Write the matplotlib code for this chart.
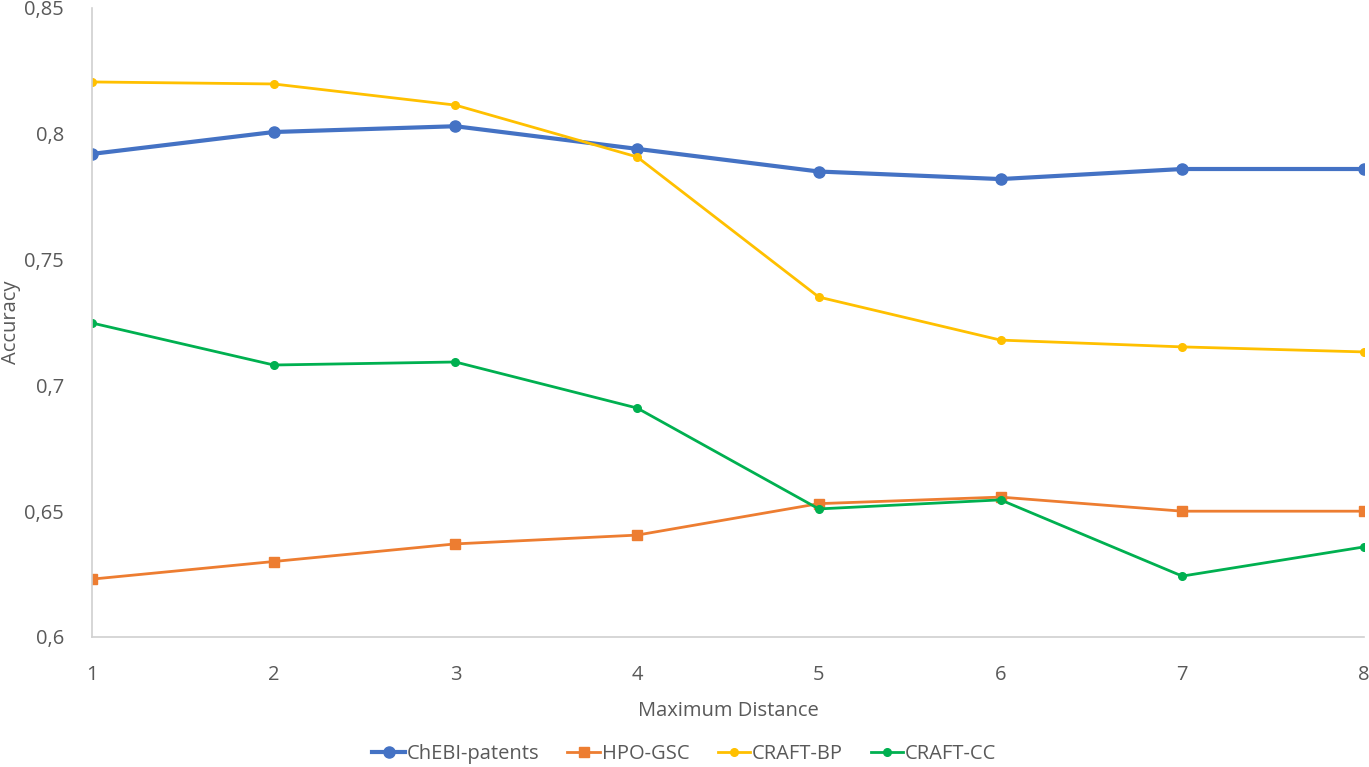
import matplotlib
matplotlib.use("Agg")
import matplotlib.pyplot as plt
from matplotlib.ticker import FuncFormatter

plt.rcParams['font.family'] = ['Open Sans', 'DejaVu Sans']

# data
distances = [1, 2, 3, 4, 5, 6, 7, 8]
chebi = [0.792, 0.8007, 0.803, 0.794, 0.785, 0.782, 0.786, 0.786]
hpo = [0.623, 0.630, 0.637, 0.6405, 0.653, 0.6556, 0.650, 0.650]
craft_bp = [0.8206, 0.8198, 0.8114, 0.7908, 0.7351, 0.718, 0.7153, 0.7133]
craft_cc = [0.7248, 0.7081, 0.7093, 0.691, 0.6509, 0.6545, 0.6242, 0.6358]

grey = '#595959'

fig = plt.figure(figsize=(13.69, 7.67), dpi=100)
ax = fig.add_axes([0.0672, 0.1695, 0.9291, 0.8201])

ax.plot(distances, chebi, color='#4472C4', lw=3, marker='o', ms=8, label='ChEBI-patents')
ax.plot(distances, hpo, color='#ED7D31', lw=2, marker='s', ms=7.5, label='HPO-GSC')
ax.plot(distances, craft_bp, color='#FFC000', lw=2, marker='o', ms=5.5, label='CRAFT-BP')
ax.plot(distances, craft_cc, color='#00B050', lw=2, marker='o', ms=5.5, label='CRAFT-CC')

ax.set_xlim(1, 8)
ax.set_ylim(0.6, 0.85)
ax.set_yticks([0.6, 0.65, 0.7, 0.75, 0.8, 0.85])
ax.yaxis.set_major_formatter(FuncFormatter(lambda v, p: ('%g' % round(v, 2)).replace('.', ',')))
ax.tick_params(length=0, labelsize=14.5, labelcolor=grey)
ax.tick_params(axis='y', pad=20)
ax.tick_params(axis='x', pad=20)

for s in ['top', 'right']:
    ax.spines[s].set_visible(False)
for s in ['left', 'bottom']:
    ax.spines[s].set_color('#D0D0D0')
    ax.spines[s].set_linewidth(1.2)

ax.set_xlabel('Maximum Distance', fontsize=14.5, color=grey, labelpad=12)
ax.set_ylabel('Accuracy', fontsize=14.5, color=grey)
ax.yaxis.set_label_coords(-0.056, 0.5)

fig.legend(loc='lower center', bbox_to_anchor=(0.5, -0.02), ncol=4, frameon=False,
           fontsize=14.5, labelcolor=grey, handlelength=1.6, handletextpad=0.1, columnspacing=1.4)

fig.savefig('out.png', dpi=100)
